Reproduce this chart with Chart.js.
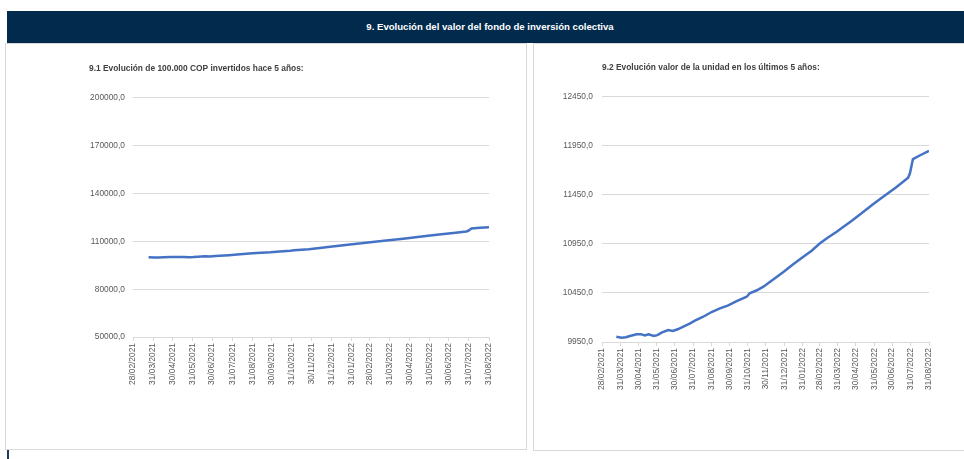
<!DOCTYPE html>
<html>
<head>
<meta charset="utf-8">
<script src="https://cdn.jsdelivr.net/npm/chart.js@4.4.0/dist/chart.umd.min.js"></script>
<style>
  html,body{margin:0;padding:0;background:#fff;}
  body{width:964px;height:459px;position:relative;overflow:hidden;font-family:'Liberation Sans',Arial,sans-serif;}
  #hdr{position:absolute;left:7px;top:11px;width:957px;height:32px;background:#012a4d;color:#fff;font-weight:bold;font-size:9.6px;line-height:32px;text-align:center;box-sizing:border-box;padding-left:9px;}
  .panel{position:absolute;border:1px solid #d9d9d9;box-sizing:border-box;}
  #p1{left:5px;top:43px;width:522px;height:407px;}
  #p2{left:533px;top:43px;width:440px;height:408px;}
  #mark{position:absolute;left:7px;top:450px;width:2px;height:9px;background:#1f3a5a;}
  canvas{position:absolute;}
  #c1{left:6px;top:44px;}
  #c2{left:534px;top:44px;}
</style>
</head>
<body>
<div id="hdr">9. Evolución del valor del fondo de inversión colectiva</div>
<div class="panel" id="p1"></div>
<div class="panel" id="p2"></div>
<div id="mark"></div>
<canvas id="c1" width="520" height="405"></canvas>
<canvas id="c2" width="430" height="405"></canvas>
<script>
// ---- Data ----
const fechas = [
  '24/03/2021','02/04/2021','09/04/2021','16/04/2021','27/04/2021','04/05/2021','11/05/2021','17/05/2021',
  '26/05/2021','01/06/2021','08/06/2021','19/06/2021','27/06/2021','05/07/2021','12/07/2021','26/07/2021',
  '03/08/2021','17/08/2021','31/08/2021','14/09/2021','28/09/2021','12/10/2021','29/10/2021','03/11/2021',
  '15/11/2021','26/11/2021','13/12/2021','29/12/2021','15/01/2022','01/02/2022','15/02/2022','01/03/2022',
  '15/03/2022','29/03/2022','06/04/2022','24/04/2022','13/05/2022','29/05/2022','15/06/2022','07/07/2022',
  '27/07/2022','30/07/2022','04/08/2022','17/08/2022','31/08/2022'
];
const valor100k = [
  100000, 99900, 99940,100070,100240,100260,100140,100240,
  100070,100160,100410,100680,100580,100760,100960,101360,
  101630,102040,102520,102890,103200,103640,104080,104430,
  104740,105100,105860,106570,107390,108160,108770,109530,
  110140,110710,111060,111860,112740,113500,114270,115250,
  116210,116660,118120,118530,118950
];
const valorUnidad = [
  10004, 9994, 9998,10011,10028,10030,10018,10028,
  10011,10020,10045,10072,10062,10080,10100,10140,
  10167,10208,10256,10293,10324,10368,10412,10447,
  10478,10514,10590,10661,10743,10820,10881,10957,
  11018,11075,11110,11190,11279,11355,11432,11530,
  11626,11671,11817,11858,11900
];
const xTickLabels = [
  '28/02/2021','31/03/2021','30/04/2021','31/05/2021','30/06/2021','31/07/2021','31/08/2021',
  '30/09/2021','31/10/2021','30/11/2021','31/12/2021','31/01/2022','28/02/2022','31/03/2022',
  '30/04/2022','31/05/2022','30/06/2022','31/07/2022','31/08/2022'
];
const yTicks1 = [50000, 80000, 110000, 140000, 170000, 200000];
const yTicks2 = [9950, 10450, 10950, 11450, 11950, 12450];
const titulo1 = '9.1 Evolución de 100.000 COP invertidos hace 5 años:';
const titulo2 = '9.2 Evolución valor de la unidad en los últimos 5 años:';

// ---- Helpers ----
function dayIndex(s){
  const p = s.split('/').map(Number);
  return Math.round((Date.UTC(p[2], p[1]-1, p[0]) - Date.UTC(2021, 1, 28)) / 86400000);
}
const xTickDays = xTickLabels.map(dayIndex);
const fmt = v => Number(v).toFixed(1).replace('.', ',');
const FONT = "'Liberation Sans', Arial, sans-serif";
const GRID = '#d9d9d9';

function makeChart(id, values, yTicks, title, opt){
  const pts = fechas.map((f, i) => ({x: dayIndex(f), y: values[i]}));
  return new Chart(document.getElementById(id), {
    type: 'line',
    data: { datasets: [{ data: pts, borderColor: '#4472c4', borderWidth: 2.5, pointRadius: 0, tension: 0, fill: false }] },
    options: {
      responsive: false, animation: false, devicePixelRatio: 1,
      layout: { padding: { left: opt.padLeft, right: opt.padRight, top: 0, bottom: 0 } },
      plugins: {
        legend: { display: false }, tooltip: { enabled: false },
        title: { display: true, text: title, align: 'start', fullSize: opt.fullSize, color: '#404040',
                 font: { family: FONT, size: 8.4, weight: 'bold' }, padding: { top: opt.tTop, bottom: opt.tBottom } }
      },
      scales: {
        x: {
          type: 'linear', min: xTickDays[0], max: xTickDays[xTickDays.length-1],
          afterBuildTicks: s => { s.ticks = xTickDays.map(v => ({value: v})); },
          afterFit: s => { s.height = opt.xHeight; },
          ticks: { autoSkip: false, minRotation: 90, maxRotation: 90, padding: 2, color: '#595959',
                   font: { family: FONT, size: 8.4 }, callback: (v, i) => xTickLabels[i] },
          grid: { display: true, drawOnChartArea: false, drawTicks: true, tickLength: 4, color: GRID },
          border: { display: true, color: GRID }
        },
        y: {
          min: yTicks[0], max: yTicks[yTicks.length-1],
          afterBuildTicks: s => { s.ticks = yTicks.map(v => ({value: v})); },
          afterFit: s => { s.width = opt.yWidth; },
          ticks: { padding: opt.yPad, color: '#595959', font: { family: FONT, size: 8.4 }, callback: v => fmt(v) },
          grid: { color: GRID, drawTicks: false, lineWidth: 1 },
          border: { display: false }
        }
      }
    }
  });
}

makeChart('c1', valor100k, yTicks1, titulo1,
  { padLeft: 83, padRight: 37, fullSize: true, tTop: 19.6, tBottom: 24.3, xHeight: 112, yWidth: 44, yPad: 8 });
makeChart('c2', valorUnidad, yTicks2, titulo2,
  { padLeft: 20, padRight: 35, fullSize: false, tTop: 19.1, tBottom: 23.8, xHeight: 107, yWidth: 48, yPad: 9 });
</script>
</body>
</html>
